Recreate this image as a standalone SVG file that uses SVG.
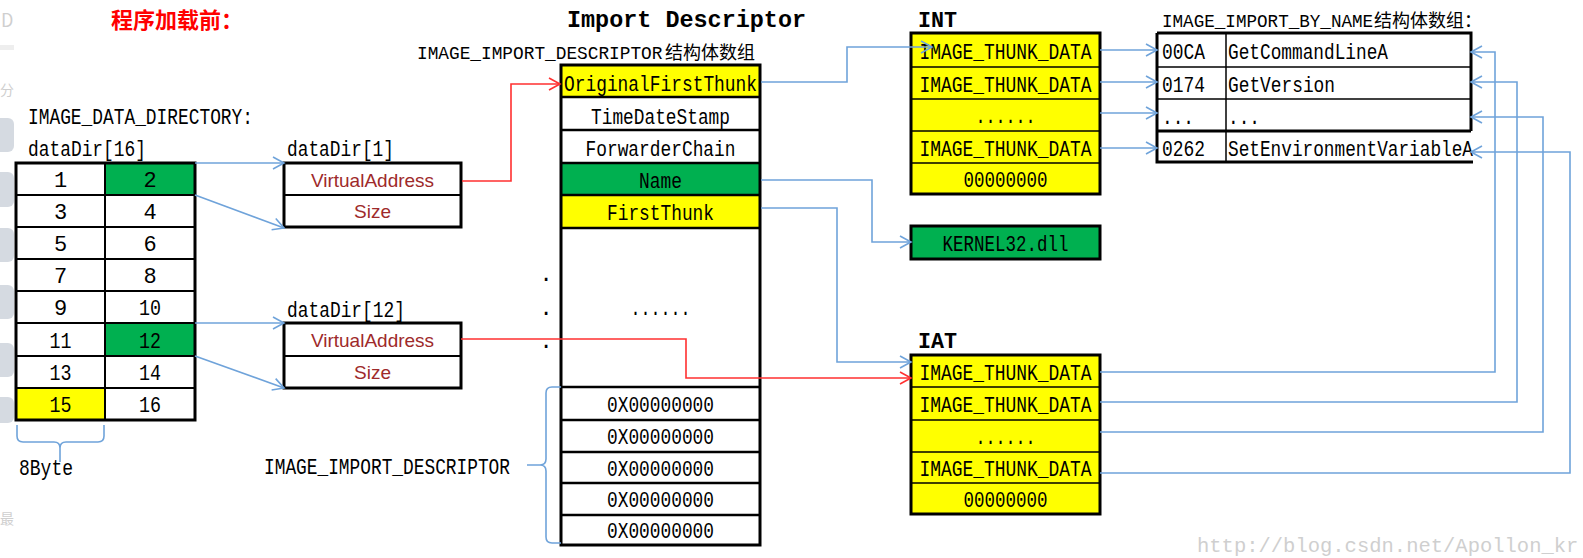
<svg xmlns="http://www.w3.org/2000/svg" width="1583" height="558" viewBox="0 0 1583 558">
<style>
.m{font-family:"Liberation Mono","Noto Sans CJK SC",monospace;font-size:22px;fill:#000}
.c{text-anchor:middle}
.bold{font-weight:bold}
.cjk{font-family:"Noto Sans CJK SC","Liberation Sans",sans-serif;font-size:18px;fill:#000}
.va{font-family:"Liberation Sans",Arial,sans-serif;font-size:19px;fill:#9E2A2B;text-anchor:middle}
.box{fill:none;stroke:#000;stroke-width:3}
.ln{stroke:#000;stroke-width:2}
.thin{stroke:#000;stroke-width:1.5}
.blue{fill:none;stroke:#6FA3DA;stroke-width:1.6}
.red{fill:none;stroke:#FF3030;stroke-width:1.6}
.ylw{fill:#FFFF00}
.grn{fill:#00B050}
.art{fill:#C3CBD4;opacity:0.7}
.artt{font-family:"Noto Sans CJK SC","Liberation Sans",sans-serif;font-size:14px;fill:#CFCFCF}
</style>
<defs>
<marker id="ab" markerUnits="userSpaceOnUse" markerWidth="14" markerHeight="14" refX="11" refY="6" orient="auto" overflow="visible">
<path d="M0,0 L11,6 L0,12" fill="none" stroke="#6FA3DA" stroke-width="1.6"/>
</marker>
<marker id="ar" markerUnits="userSpaceOnUse" markerWidth="14" markerHeight="14" refX="11" refY="6" orient="auto" overflow="visible">
<path d="M0,0 L11,6 L0,12" fill="none" stroke="#FF3030" stroke-width="1.6"/>
</marker>
</defs>
<rect width="1583" height="558" fill="#fff"/>

<g id="page-artifacts">
<text class="artt" x="1" y="27" style="font-size:18px">D</text>
<rect x="0" y="45" width="14" height="5" fill="#EEEEEE"/>
<text class="artt" x="0" y="95">分</text>
<rect class="art" x="-8" y="118" width="22" height="34" rx="6"/>
<rect class="art" x="-8" y="172" width="22" height="35" rx="6"/>
<rect class="art" x="-8" y="228" width="22" height="34" rx="6"/>
<rect class="art" x="-8" y="285" width="22" height="34" rx="6"/>
<rect class="art" x="-8" y="343" width="22" height="34" rx="6"/>
<rect class="art" x="-8" y="397" width="22" height="26" rx="6"/>
<text class="artt" x="0" y="524">最</text>
</g>

<g id="title">
<text x="111" y="28" font-family="'Noto Sans CJK SC',sans-serif" font-size="22" font-weight="bold" fill="#FF0000">程序加载前：</text>
</g>

<g id="dataDir16">
<text class="m" x="28" y="124" textLength="225" lengthAdjust="spacingAndGlyphs">IMAGE_DATA_DIRECTORY:</text>
<text class="m" x="28" y="156" textLength="118" lengthAdjust="spacingAndGlyphs">dataDir[16]</text>
<rect class="grn" x="105" y="163" width="90" height="32"/>
<rect class="grn" x="105" y="323" width="90" height="33"/>
<rect class="ylw" x="16" y="388" width="89" height="32"/>
<line class="ln" x1="105" y1="163" x2="105" y2="420"/>
<line class="ln" x1="16" y1="195" x2="195" y2="195"/>
<line class="ln" x1="16" y1="227" x2="195" y2="227"/>
<line class="ln" x1="16" y1="259" x2="195" y2="259"/>
<line class="ln" x1="16" y1="291" x2="195" y2="291"/>
<line class="ln" x1="16" y1="323" x2="195" y2="323"/>
<line class="ln" x1="16" y1="356" x2="195" y2="356"/>
<line class="ln" x1="16" y1="388" x2="195" y2="388"/>
<rect class="box" x="16" y="163" width="179" height="257"/>
<g class="m c">
<text x="60.5" y="187">1</text><text x="150" y="187">2</text>
<text x="60.5" y="219">3</text><text x="150" y="219">4</text>
<text x="60.5" y="251">5</text><text x="150" y="251">6</text>
<text x="60.5" y="283">7</text><text x="150" y="283">8</text>
<text x="60.5" y="315">9</text><text x="150" y="315" textLength="22" lengthAdjust="spacingAndGlyphs">10</text>
<text x="60.5" y="348" textLength="22" lengthAdjust="spacingAndGlyphs">11</text><text x="150" y="348" textLength="22" lengthAdjust="spacingAndGlyphs">12</text>
<text x="60.5" y="380" textLength="22" lengthAdjust="spacingAndGlyphs">13</text><text x="150" y="380" textLength="22" lengthAdjust="spacingAndGlyphs">14</text>
<text x="60.5" y="412" textLength="22" lengthAdjust="spacingAndGlyphs">15</text><text x="150" y="412" textLength="22" lengthAdjust="spacingAndGlyphs">16</text>
</g>
<text class="m" x="19" y="475" textLength="54" lengthAdjust="spacingAndGlyphs">8Byte</text>
</g>

<g id="dataDir1">
<text class="m" x="287" y="156" textLength="107" lengthAdjust="spacingAndGlyphs">dataDir[1]</text>
<line class="ln" x1="284" y1="195" x2="461" y2="195"/>
<rect class="box" x="284" y="163" width="177" height="64" stroke-width="2.5"/>
<text class="va" x="372.5" y="187">VirtualAddress</text>
<text class="va" x="372.5" y="218">Size</text>
</g>

<g id="dataDir12">
<text class="m" x="287" y="317" textLength="118" lengthAdjust="spacingAndGlyphs">dataDir[12]</text>
<line class="ln" x1="284" y1="356" x2="461" y2="356"/>
<rect class="box" x="284" y="323" width="177" height="65" stroke-width="2.5"/>
<text class="va" x="372.5" y="347">VirtualAddress</text>
<text class="va" x="372.5" y="379">Size</text>
</g>

<g id="import-descriptor">
<text class="m bold" x="567" y="27" style="font-size:23px" textLength="239" lengthAdjust="spacingAndGlyphs">Import Descriptor</text>
<text class="m" x="417" y="59" style="font-size:17.8px">IMAGE_IMPORT_DESCRIPTOR</text>
<text class="cjk" x="665" y="59">结构体数组</text>
<rect class="ylw" x="561" y="65" width="199" height="32"/>
<rect class="grn" x="561" y="163" width="199" height="32"/>
<rect class="ylw" x="561" y="195" width="199" height="33"/>
<g stroke="#000" stroke-width="2.5">
<line x1="561" y1="97" x2="760" y2="97"/>
<line x1="561" y1="130" x2="760" y2="130"/>
<line x1="561" y1="163" x2="760" y2="163"/>
<line x1="561" y1="195" x2="760" y2="195"/>
<line x1="561" y1="228" x2="760" y2="228"/>
<line x1="561" y1="387" x2="760" y2="387"/>
<line x1="561" y1="420" x2="760" y2="420"/>
<line x1="561" y1="452" x2="760" y2="452"/>
<line x1="561" y1="483" x2="760" y2="483"/>
<line x1="561" y1="515" x2="760" y2="515"/>
</g>
<rect class="box" x="561" y="65" width="199" height="480" stroke-width="3.5"/>
<g class="m c">
<text x="660.5" y="91" textLength="193" lengthAdjust="spacingAndGlyphs">OriginalFirstThunk</text>
<text x="660.5" y="124" textLength="139" lengthAdjust="spacingAndGlyphs">TimeDateStamp</text>
<text x="660.5" y="156" textLength="150" lengthAdjust="spacingAndGlyphs">ForwarderChain</text>
<text x="660.5" y="188" textLength="43" lengthAdjust="spacingAndGlyphs">Name</text>
<text x="660.5" y="220" textLength="107" lengthAdjust="spacingAndGlyphs">FirstThunk</text>
<text x="660.5" y="315" textLength="60" lengthAdjust="spacingAndGlyphs">......</text>
<text x="660.5" y="412" textLength="107" lengthAdjust="spacingAndGlyphs">0X00000000</text>
<text x="660.5" y="444" textLength="107" lengthAdjust="spacingAndGlyphs">0X00000000</text>
<text x="660.5" y="476" textLength="107" lengthAdjust="spacingAndGlyphs">0X00000000</text>
<text x="660.5" y="507" textLength="107" lengthAdjust="spacingAndGlyphs">0X00000000</text>
<text x="660.5" y="538" textLength="107" lengthAdjust="spacingAndGlyphs">0X00000000</text>
<text x="546" y="281">.</text>
<text x="546" y="315">.</text>
<text x="546" y="348">.</text>
</g>
<text class="m" x="264" y="474" textLength="246" lengthAdjust="spacingAndGlyphs">IMAGE_IMPORT_DESCRIPTOR</text>
</g>

<g id="INT">
<text class="m bold" x="918" y="27" textLength="39" lengthAdjust="spacingAndGlyphs">INT</text>
<rect class="ylw" x="911" y="33" width="189" height="161"/>
<g class="thin">
<line x1="911" y1="67" x2="1100" y2="67"/>
<line x1="911" y1="99" x2="1100" y2="99"/>
<line x1="911" y1="131" x2="1100" y2="131"/>
<line x1="911" y1="163" x2="1100" y2="163"/>
</g>
<rect class="box" x="911" y="33" width="189" height="161"/>
<g class="m c">
<text x="1005.5" y="59" textLength="172" lengthAdjust="spacingAndGlyphs">IMAGE_THUNK_DATA</text>
<text x="1005.5" y="92" textLength="172" lengthAdjust="spacingAndGlyphs">IMAGE_THUNK_DATA</text>
<text x="1005.5" y="123" textLength="60" lengthAdjust="spacingAndGlyphs">......</text>
<text x="1005.5" y="156" textLength="172" lengthAdjust="spacingAndGlyphs">IMAGE_THUNK_DATA</text>
<text x="1005.5" y="187" textLength="84" lengthAdjust="spacingAndGlyphs">00000000</text>
</g>
</g>

<g id="kernel32">
<rect class="grn" x="911" y="226" width="189" height="33"/>
<rect class="box" x="911" y="226" width="189" height="33"/>
<text class="m c" x="1005.5" y="251" textLength="126" lengthAdjust="spacingAndGlyphs">KERNEL32.dll</text>
</g>

<g id="IAT">
<text class="m bold" x="918" y="348" textLength="39" lengthAdjust="spacingAndGlyphs">IAT</text>
<rect class="ylw" x="911" y="355" width="189" height="159"/>
<g class="thin">
<line x1="911" y1="387" x2="1100" y2="387"/>
<line x1="911" y1="420" x2="1100" y2="420"/>
<line x1="911" y1="452" x2="1100" y2="452"/>
<line x1="911" y1="483" x2="1100" y2="483"/>
</g>
<rect class="box" x="911" y="355" width="189" height="159"/>
<g class="m c">
<text x="1005.5" y="380" textLength="172" lengthAdjust="spacingAndGlyphs">IMAGE_THUNK_DATA</text>
<text x="1005.5" y="412" textLength="172" lengthAdjust="spacingAndGlyphs">IMAGE_THUNK_DATA</text>
<text x="1005.5" y="444" textLength="60" lengthAdjust="spacingAndGlyphs">......</text>
<text x="1005.5" y="476" textLength="172" lengthAdjust="spacingAndGlyphs">IMAGE_THUNK_DATA</text>
<text x="1005.5" y="507" textLength="84" lengthAdjust="spacingAndGlyphs">00000000</text>
</g>
</g>

<g id="import-by-name">
<text class="m" x="1162" y="27" style="font-size:17.6px">IMAGE_IMPORT_BY_NAME</text>
<text class="cjk" x="1374" y="27">结构体数组：</text>
<g class="thin">
<line x1="1157" y1="67" x2="1471" y2="67"/>
<line x1="1157" y1="99" x2="1471" y2="99"/>
<line x1="1226" y1="33" x2="1226" y2="162"/>
</g>
<path d="M1157,33 H1471 V131 M1157,131 H1471 M1157,33 V162 H1473" fill="none" stroke="#000" stroke-width="3"/>
<g class="m">
<text x="1162" y="59" textLength="43" lengthAdjust="spacingAndGlyphs">00CA</text>
<text x="1228" y="59" textLength="160" lengthAdjust="spacingAndGlyphs">GetCommandLineA</text>
<text x="1162" y="92" textLength="43" lengthAdjust="spacingAndGlyphs">0174</text>
<text x="1228" y="92" textLength="107" lengthAdjust="spacingAndGlyphs">GetVersion</text>
<text x="1162" y="124" textLength="32" lengthAdjust="spacingAndGlyphs">...</text>
<text x="1228" y="124" textLength="32" lengthAdjust="spacingAndGlyphs">...</text>
<text x="1162" y="156" textLength="43" lengthAdjust="spacingAndGlyphs">0262</text>
<text x="1228" y="156" textLength="245" lengthAdjust="spacingAndGlyphs">SetEnvironmentVariableA</text>
</g>
</g>

<g id="connectors">
<path class="blue" d="M195,163 H284" marker-end="url(#ab)"/>
<path class="blue" d="M195,195 L284,228" marker-end="url(#ab)"/>
<path class="blue" d="M195,323 H284" marker-end="url(#ab)"/>
<path class="blue" d="M195,356 L284,388" marker-end="url(#ab)"/>
<path class="red" d="M462,181 H511 V84 H560" marker-end="url(#ar)"/>
<path class="red" d="M461,339 H686 V378 H911" marker-end="url(#ar)"/>
<path class="blue" d="M761,82 H847 V47 H932" marker-end="url(#ab)"/>
<path class="blue" d="M761,180 H872 V242 H911" marker-end="url(#ab)"/>
<path class="blue" d="M761,208 H837 V362 H911" marker-end="url(#ab)"/>
<path class="blue" d="M1100,50 H1157" marker-end="url(#ab)"/>
<path class="blue" d="M1100,82 H1157" marker-end="url(#ab)"/>
<path class="blue" d="M1100,113 H1157" marker-end="url(#ab)"/>
<path class="blue" d="M1100,148 H1157" marker-end="url(#ab)"/>
<path class="blue" d="M1100,372 H1495 V52 H1471" marker-end="url(#ab)"/>
<path class="blue" d="M1100,402 H1517 V82 H1471" marker-end="url(#ab)"/>
<path class="blue" d="M1100,432 H1543 V117 H1471" marker-end="url(#ab)"/>
<path class="blue" d="M1100,473 H1570 V152 H1471" marker-end="url(#ab)"/>
<path class="blue" d="M17,425 V436 Q17,442 23,442 H54 Q60,442 60,448 V462 M60,448 Q60,442 66,442 H98 Q104,442 104,436 V425"/>
<path class="blue" d="M561,387 H552 Q546,387 546,393 V459 Q546,465 540,465 H527 M540,465 Q546,465 546,471 V537 Q546,543 552,543 H561"/>
</g>

<g id="watermark">
<text x="1197" y="552" font-family="'Liberation Mono',monospace" font-size="20.5" fill="#CFCFCF">http://blog.csdn.net/Apollon_kr</text>
</g>
</svg>
